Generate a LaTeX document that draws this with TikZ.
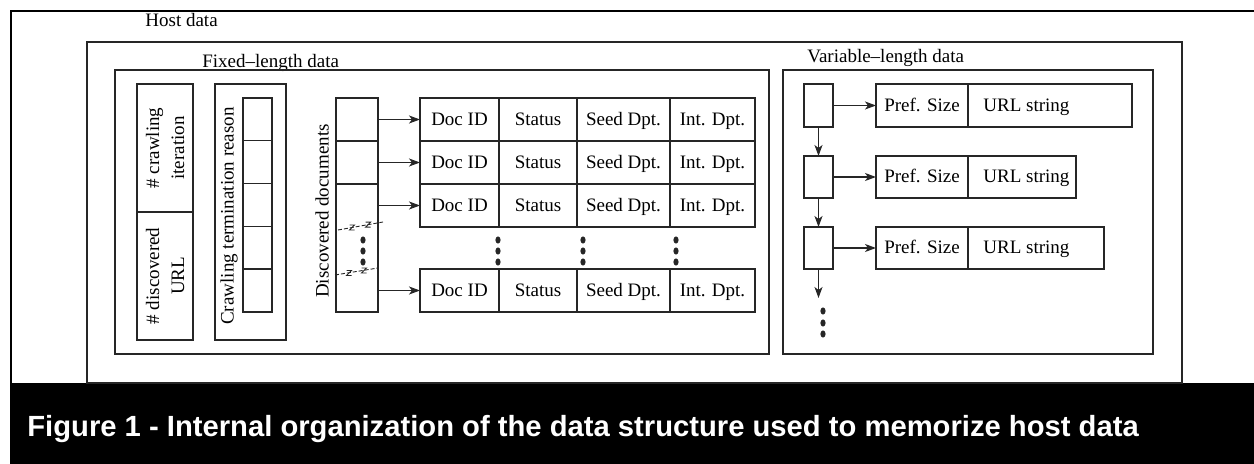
\documentclass[tikz,border=0pt]{standalone}
\usepackage{fontspec}
\setmainfont{Liberation Serif}
\newfontfamily\capfont{Liberation Sans}
\usetikzlibrary{arrows.meta}
\newcommand\lblfont{\fontsize{9.5}{12.5}\selectfont}
\begin{document}
\begin{tikzpicture}[x=0.5pt,y=-0.5pt,
  box/.style={draw=black!85, line width=0.7pt, inner sep=0pt, outer sep=0pt, anchor=north west},
  cell/.style={draw=black!85, line width=0.7pt, inner sep=0pt, outer sep=0pt, anchor=north west,
               font=\lblfont, text height=1.6ex, text depth=0.3ex},
  lbl/.style={font=\lblfont, inner sep=0pt},
  rowtxt/.style={font=\lblfont, inner sep=0pt, text height=1.6ex, text depth=0.3ex},
  ptr/.style={draw=black!85, line width=0.7pt, -{Stealth[length=5.5pt,width=4pt,inset=1.5pt]}},
  brk/.style={draw=black!85, line width=0.45pt},
  dot/.style={fill=black!85}]
\useasboundingbox (0,0) rectangle (1254,464);
% frame and caption band
\fill[black] (10,383) rectangle (1254,464);
\draw[line width=1.2pt] (1254,11) -- (11,11) -- (11,383);
\node[anchor=base west, text=white, inner sep=0pt,
      font=\capfont\bfseries\fontsize{14.6}{17}\selectfont] (cap) at (27,437)
  {Figure 1 - Internal organization of the data structure used to memorize host data};

% containers
\node[lbl, anchor=base west] (hostlbl) at (145,27) {Host data};
\node[box, minimum width=547.5pt, minimum height=170.5pt] (host) at (87,42) {};
\node[lbl, anchor=base west] (fixlbl) at (202,68) {Fixed--length data};
\node[box, minimum width=327pt, minimum height=142pt] (fixed) at (115,70) {};
\node[lbl, anchor=base west] (varlbl) at (807,63) {Variable--length data};
\node[box, minimum width=185pt, minimum height=142pt] (var) at (783,70) {};

% counters
\node[cell, minimum width=28pt, minimum height=64pt] (crawlA) at (137,84) {};
\node[cell, minimum width=28pt, minimum height=64pt] (crawlB) at (137,212) {};
\node[lbl, rotate=90, align=center] (crawlAt) at (crawlA.center) {\# crawling\\iteration};
\node[lbl, rotate=90, align=center] (crawlBt) at (crawlB.center) {\# discovered\\URL};

% termination reasons
\node[cell, minimum width=35.5pt, minimum height=128pt] (term) at (215,84) {};
\foreach \i in {0,...,4} {
  \node[cell, minimum width=14.5pt, minimum height=21.4pt] (t\i) at (243,98+42.8*\i) {};
}
\node[lbl, rotate=90] (termt) at (229,216) {Crawling termination reason};

% discovered documents
\node[cell, minimum width=21pt, minimum height=21.5pt] (d1) at (336,98) {};
\node[cell, minimum width=21pt, minimum height=21.5pt] (d2) at (336,141) {};
\node[cell, minimum width=21pt, minimum height=64pt] (d3) at (336,184) {};
\node[lbl, rotate=90] (disct) at (322,211) {Discovered documents};
% break marks
\draw[brk, dash pattern=on 2pt off 1pt] (338,230) -- (383,222);
\draw[brk, dash pattern=on 2pt off 1pt] (335,275) -- (378,268);
\foreach \p in {(352,227.5),(368,224.7),(349,273),(364,270.5)} {
  \draw[brk] \p ++(-2.5,-2.5) -- ++(5,0) -- ++(-5,5) -- ++(5,0);
}
\foreach \y in {240,251,262} { \fill[dot] (363,\y) ellipse [x radius=1.3pt, y radius=1.8pt]; }

% document records
\foreach \r/\y in {1/98,2/141,3/184,4/269} {
  \node[cell, minimum width=39.5pt, minimum height=21.5pt] (r\r c1) at (420,\y) {Doc ID};
  \node[cell, minimum width=39pt,   minimum height=21.5pt] (r\r c2) at (499,\y) {Status};
  \node[cell, minimum width=46.5pt, minimum height=21.5pt] (r\r c3) at (577,\y) {Seed Dpt.};
  \node[cell, minimum width=42.5pt, minimum height=21.5pt] (r\r c4) at (670,\y) {Int. Dpt.};
}
\draw[ptr] (d1.east) -- (r1c1.west);
\draw[ptr] (d2.east) -- (r2c1.west);
\draw[ptr] (d3.east |- r3c1.west) -- (r3c1.west);
\draw[ptr] (d3.east |- r4c1.west) -- (r4c1.west);
\foreach \x in {498,583,676} {
  \foreach \y in {240,251,262} { \fill[dot] (\x,\y) ellipse [x radius=1.3pt, y radius=1.8pt]; }
}

% variable-length list
\node[cell, minimum width=14.5pt, minimum height=21.5pt] (p1) at (804,84) {};
\node[cell, minimum width=14.5pt, minimum height=21pt] (p2) at (804,156) {};
\node[cell, minimum width=14.5pt, minimum height=21pt] (p3) at (804,227) {};
\coordinate (pend) at (818.5,298);
\draw[ptr] (p1.south) -- (p2.north);
\draw[ptr] (p2.south) -- (p3.north);
\draw[ptr] (p3.south) -- (pend);
\foreach \y in {311,323,334} { \fill[dot] (823,\y) ellipse [x radius=1.3pt, y radius=1.8pt]; }

\node[cell, minimum width=46pt, minimum height=21.5pt] (s1) at (876,84) {};
\node[cell, minimum width=82pt, minimum height=21.5pt] (u1) at (968,84) {};
\node[cell, minimum width=46pt, minimum height=21pt] (s2) at (876,156) {};
\node[cell, minimum width=54pt, minimum height=21pt] (u2) at (968,156) {};
\node[cell, minimum width=46pt, minimum height=21pt] (s3) at (876,227) {};
\node[cell, minimum width=68pt, minimum height=21pt] (u3) at (968,227) {};
\foreach \i in {1,2,3} {
  \node[rowtxt] (s\i t) at (s\i.center) {Pref. Size};
  \node[rowtxt, anchor=west] (u\i t) at ([xshift=7.5pt]u\i.west) {URL string};
  \draw[ptr] (p\i.east) -- (s\i.west);
}
\end{tikzpicture}
\end{document}
